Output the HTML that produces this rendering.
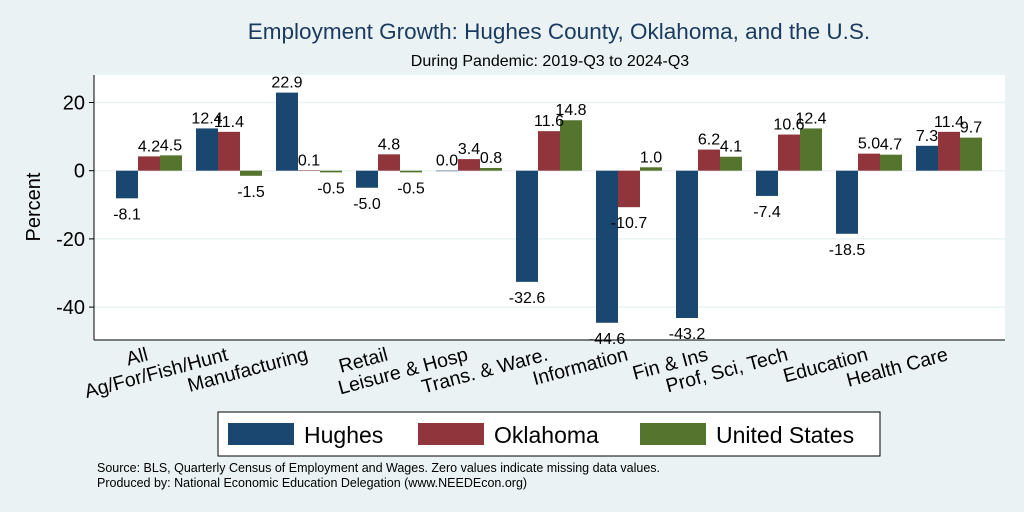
<!DOCTYPE html>
<html><head><meta charset="utf-8">
<style>
body{margin:0;background:#eaf2f3;}
svg{display:block;font-family:"Liberation Sans",Arial,sans-serif;}
</style></head>
<body>
<svg id="chart" width="1024" height="512" viewBox="0 0 1024 512" xmlns="http://www.w3.org/2000/svg">
<rect x="0" y="0" width="1024" height="512" fill="#eaf2f3"/>
<text x="559" y="39" text-anchor="middle" font-size="22.5" fill="#1a3a5f">Employment Growth: Hughes County, Oklahoma, and the U.S.</text>
<text x="550" y="66" text-anchor="middle" font-size="16" fill="#000">During Pandemic: 2019-Q3 to 2024-Q3</text>
<rect x="94" y="75" width="911" height="265" fill="#fff"/>
<g id="grid"></g>
<g id="bars"></g>
<g id="vals"></g>
<line x1="94" y1="75" x2="94" y2="340" stroke="#000" stroke-width="1"/>
<line x1="94" y1="340" x2="1005" y2="340" stroke="#000" stroke-width="1"/>
<g id="yticks"></g>
<g id="xlabels"></g>
<text transform="translate(40,207) rotate(-90)" text-anchor="middle" font-size="20" fill="#000">Percent</text>
<g>
<rect x="218" y="412" width="662" height="44" fill="#fff" stroke="#000" stroke-width="1"/>
<rect x="228" y="423" width="66" height="22" fill="#1a476f"/>
<text x="304" y="443" font-size="23">Hughes</text>
<rect x="418" y="423" width="66" height="22" fill="#90353b"/>
<text x="494" y="443" font-size="23">Oklahoma</text>
<rect x="640" y="423" width="66" height="22" fill="#55752f"/>
<text x="716" y="443" font-size="23">United States</text>
</g>
<text x="97" y="472" font-size="12.5">Source: BLS, Quarterly Census of Employment and Wages. Zero values indicate missing data values.</text>
<text x="97" y="487" font-size="12.5">Produced by: National Economic Education Delegation (www.NEEDEcon.org)</text>
</svg>
<script>
const categories=["All","Ag/For/Fish/Hunt","Manufacturing","Retail","Leisure & Hosp","Trans. & Ware.","Information","Fin & Ins","Prof, Sci, Tech","Education","Health Care"];
const hughes=[-8.1,12.4,22.9,-5.0,0.0,-32.6,-44.6,-43.2,-7.4,-18.5,7.3];
const oklahoma=[4.2,11.4,0.1,4.8,3.4,11.6,-10.7,6.2,10.6,5.0,11.4];
const unitedStates=[4.5,-1.5,-0.5,-0.5,0.8,14.8,1.0,4.1,12.4,4.7,9.7];
const yTicks=[20,0,-20,-40];
const NS="http://www.w3.org/2000/svg";
function y(v){return 170.7-v*3.41;}
function groupX(i){return 116+i*80;}
const BW=22;
function mk(tag,attrs,parent,txt){const e=document.createElementNS(NS,tag);for(const k in attrs)e.setAttribute(k,attrs[k]);if(txt!==undefined)e.textContent=txt;document.getElementById(parent).appendChild(e);return e;}
yTicks.forEach(t=>{
  const g=mk('line',{x1:94,x2:1005,y1:y(t),y2:y(t),stroke:'#eaf2f3','stroke-width':1.5},'grid');
  
  
  const tk=mk('line',{x1:89,x2:94,y1:y(t),y2:y(t),stroke:'#000'},'yticks');
  
  
  const tl=mk('text',{x:85,y:y(t)+7,'text-anchor':'end','font-size':20},'yticks',String(t));
  
  
});
const series=[[hughes,'#1a476f','hughes'],[oklahoma,'#90353b','oklahoma'],[unitedStates,'#55752f','us']];
categories.forEach((c,i)=>{
  series.forEach((s,j)=>{
    const v=s[0][i];
    const x=groupX(i)+j*BW;
    const top=Math.min(y(v),y(0)),h=Math.abs(y(v)-y(0));
    const r=mk('rect',{x:x,y:top,width:BW,height:Math.max(h,0.5),fill:s[1]},'bars');
    
    
    const ly=v>=0?y(v)-5:y(v)+21;
    const t=mk('text',{x:x+BW/2,y:ly,'text-anchor':'middle','font-size':16},'vals',v.toFixed(1));
    
    
  });
  const cx=groupX(i)+33;
  const l=mk('text',{x:0,y:0,'text-anchor':'end','font-size':19.5,transform:'translate('+cx+',360) rotate(-15)'},'xlabels',c);
  
  
});
</script>
</body></html>
